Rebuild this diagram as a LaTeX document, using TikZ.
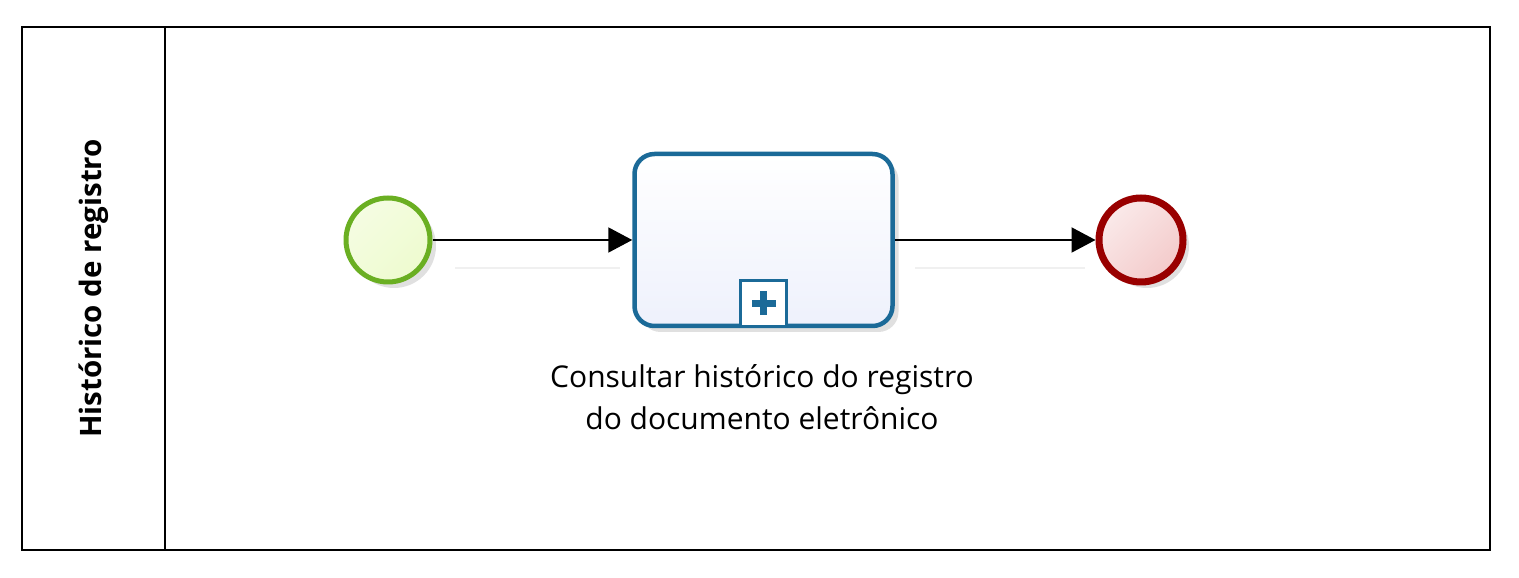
\documentclass[tikz,border=0pt]{standalone}
\usepackage{fontspec}
\setmainfont{Open Sans}
\usetikzlibrary{arrows.meta,shadows,fadings}
\definecolor{startstroke}{HTML}{6AAF22}
\definecolor{startfill}{HTML}{EEFBCF}
\definecolor{taskstroke}{HTML}{1B6A98}
\definecolor{taskfill}{HTML}{EEF1FC}
\definecolor{endstroke}{HTML}{990000}
\definecolor{endfill}{HTML}{F3CACA}
\tikzset{
  softshadow/.style={drop shadow={shadow xshift=6pt,shadow yshift=-6pt,fill=black,opacity=0.12}},
  startev/.style={circle,draw=startstroke,line width=5pt,inner sep=0pt,minimum size=84pt,
     top color=startfill!60!white,bottom color=startfill,shading angle=45,softshadow},
  endev/.style={circle,draw=endstroke,line width=7pt,inner sep=0pt,minimum size=84pt,
     left color=endfill!40!white,right color=endfill,shading angle=45,softshadow},
  taskbox/.style={rectangle,rounded corners=20pt,draw=taskstroke,line width=4.5pt,
     minimum width=258pt,minimum height=172pt,inner sep=0pt,top color=white,bottom color=taskfill,softshadow},
  flow/.style={draw=black,line width=2pt,-{Triangle[length=24pt,width=25pt]}},
  lbl/.style={font=\fontsize{30pt}{42pt}\selectfont,align=center,text=black},
}
\begin{document}
\begin{tikzpicture}[x=1pt,y=1pt]
\useasboundingbox (0,0) rectangle (1519,578);
\fill[white] (0,0) rectangle (1519,578);
% pool and lane
\draw[line width=2pt] (22,28) rectangle (1490,551);
\draw[line width=2pt] (165,28) -- (165,551);
\node[rotate=90,font=\bfseries\fontsize{29.5pt}{30pt}\selectfont] (title) at (94,289.5) {Histórico de registro};
% faint shadow lines of flows
\draw[black!6,line width=2pt] (455,310) -- (620,310);
\draw[black!6,line width=2pt] (915,310) -- (1085,310);
% nodes
\node[startev] (start) at (388,338) {};
\node[taskbox] (task) at (763.5,338) {};
\node[endev] (end) at (1141,338) {};
% collapsed subprocess marker
\node[draw=taskstroke,line width=3.5pt,fill=white,minimum size=46pt,inner sep=0pt,anchor=south] (marker) at (task.south) {};
\fill[taskstroke] ([xshift=-12pt,yshift=-3.5pt]marker.center) rectangle ([xshift=12pt,yshift=3.5pt]marker.center);
\fill[taskstroke] ([xshift=-3.5pt,yshift=-12pt]marker.center) rectangle ([xshift=3.5pt,yshift=12pt]marker.center);
% flows
\draw[flow] (start.east) -- (task.west);
\draw[flow] (task.east) -- (end.west);
% label
\node[lbl,anchor=north,inner sep=0pt] (label) at (762,214) {Consultar histórico do registro\\do documento eletrônico};
\end{tikzpicture}
\end{document}
